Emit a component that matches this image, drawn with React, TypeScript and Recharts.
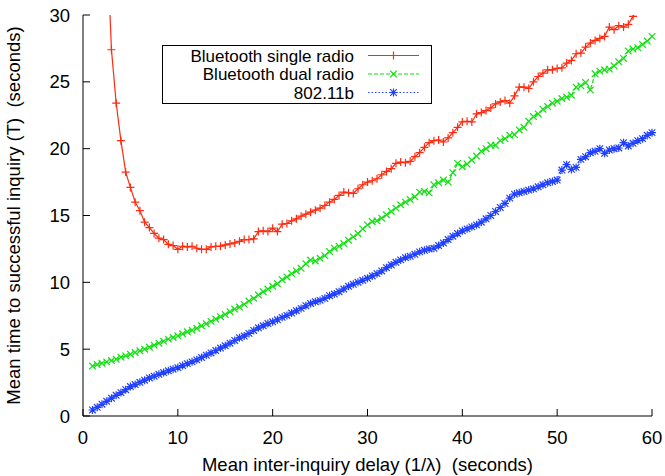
import { LineChart, Line, XAxis, YAxis } from "recharts";

// mean inter-inquiry delay (seconds)
const delays = [
  1, 1.5, 2, 2.5, 3, 3.5, 4, 4.5, 5, 5.5, 6, 6.5, 7, 7.5, 8, 8.5, 9, 9.5, 10, 10.5,
  11, 11.5, 12, 12.5, 13, 13.5, 14, 14.5, 15, 15.5, 16, 16.5, 17, 17.5, 18, 18.5, 19, 19.5, 20, 20.5,
  21, 21.5, 22, 22.5, 23, 23.5, 24, 24.5, 25, 25.5, 26, 26.5, 27, 27.5, 28, 28.5, 29, 29.5, 30, 30.5,
  31, 31.5, 32, 32.5, 33, 33.5, 34, 34.5, 35, 35.5, 36, 36.5, 37, 37.5, 38, 38.5, 39, 39.5, 40, 40.5,
  41, 41.5, 42, 42.5, 43, 43.5, 44, 44.5, 45, 45.5, 46, 46.5, 47, 47.5, 48, 48.5, 49, 49.5, 50, 50.5,
  51, 51.5, 52, 52.5, 53, 53.5, 54, 54.5, 55, 55.5, 56, 56.5, 57, 57.5, 58, 58.5, 59, 59.5, 60,
];

const singleRadio = [
  95, 65, 48, 36, 27.4, 23.4, 20.6, 18.25, 17.1, 16.0, 15.36, 14.5, 14.1, 13.66, 13.3, 13.2, 12.84, 12.75, 12.47, 12.7,
  12.65, 12.7, 12.55, 12.47, 12.47, 12.65, 12.7, 12.7, 12.8, 12.87, 12.95, 13.07, 13.2, 13.2, 13.25, 13.8, 13.85, 13.8, 14.05, 13.8,
  14.35, 14.4, 14.6, 14.75, 14.95, 15.1, 15.25, 15.4, 15.55, 15.75, 16.0, 16.2, 16.5, 16.75, 16.7, 16.65, 17.0, 17.3, 17.5, 17.6,
  17.75, 18.05, 18.3, 18.5, 18.9, 19.0, 18.95, 19.05, 19.4, 19.7, 20.1, 20.45, 20.6, 20.65, 20.5, 20.8, 21.2, 21.6, 22.0, 22.05,
  22.0, 22.6, 22.7, 22.85, 23.05, 23.35, 23.5, 23.6, 23.4, 23.95, 24.6, 24.6, 24.5, 25.0, 25.4, 25.65, 25.9, 25.9, 26.0, 26.05,
  26.4, 26.6, 27.1, 27.15, 27.6, 27.9, 28.1, 28.25, 28.4, 29.1, 28.9, 29.2, 29.1, 29.3, 29.9, 30.5, 30.9, 31.0, 31.4,
];

const dualRadio = [
  3.74, 3.85, 3.95, 4.05, 4.15, 4.25, 4.4, 4.5, 4.62, 4.75,
  4.88, 5.0, 5.15, 5.3, 5.45, 5.6, 5.75, 5.88, 6.0, 6.15,
  6.3, 6.42, 6.56, 6.75, 6.9, 7.08, 7.25, 7.43, 7.6, 7.8,
  8.0, 8.15, 8.35, 8.6, 8.8, 9.05, 9.3, 9.5, 9.7, 9.9,
  10.2, 10.4, 10.65, 10.85, 11.05, 11.4, 11.67, 11.6, 11.8, 12.0,
  12.3, 12.55, 12.7, 12.9, 13.15, 13.4, 13.65, 14.0, 14.3, 14.55,
  14.6, 14.8, 15.05, 15.3, 15.55, 15.8, 16.0, 16.2, 16.4, 16.75,
  16.8, 16.7, 17.3, 17.45, 17.65, 17.5, 18.2, 18.9, 18.65, 18.85,
  19.15, 19.45, 19.8, 20.0, 20.25, 20.25, 20.6, 20.75, 21.0, 21.05,
  21.4, 21.6, 22.05, 22.4, 22.6, 22.95, 23.15, 23.4, 23.55, 23.75,
  23.85, 24.0, 24.6, 24.7, 24.95, 24.4, 25.6, 25.8, 25.9, 25.95,
  26.2, 26.5, 26.75, 27.3, 27.45, 27.55, 27.8, 28.05, 28.4,
];

const wifi = [
  0.45, 0.65, 0.88, 1.1, 1.33, 1.55, 1.75, 1.97, 2.2, 2.35,
  2.52, 2.68, 2.85, 2.98, 3.12, 3.25, 3.38, 3.5, 3.62, 3.77,
  3.92, 4.05, 4.2, 4.38, 4.55, 4.72, 4.9, 5.08, 5.25, 5.45,
  5.65, 5.85, 5.98, 6.18, 6.4, 6.6, 6.75, 6.92, 7.05, 7.2,
  7.38, 7.52, 7.7, 7.88, 8.05, 8.25, 8.42, 8.55, 8.65, 8.8,
  9.0, 9.12, 9.3, 9.5, 9.7, 9.85, 10.0, 10.15, 10.3, 10.48,
  10.65, 10.85, 11.1, 11.3, 11.5, 11.68, 11.85, 11.95, 12.1, 12.28,
  12.4, 12.5, 12.55, 12.75, 12.95, 13.2, 13.45, 13.65, 13.85, 14.0,
  14.15, 14.3, 14.5, 14.75, 15.0, 15.3, 15.6, 15.9, 16.3, 16.6,
  16.7, 16.8, 16.9, 17.0, 17.15, 17.3, 17.45, 17.55, 17.65, 18.4,
  18.8, 18.45, 18.6, 19.2, 19.4, 19.7, 19.8, 20.0, 19.65, 19.9,
  20.0, 20.05, 20.45, 20.2, 20.4, 20.6, 20.75, 21.0, 21.2,
];

const xTicks = [0, 10, 20, 30, 40, 50, 60];
const yTicks = [0, 5, 10, 15, 20, 25, 30];

const data = delays.map((d, i) => ({
  delay: d,
  single: singleRadio[i],
  dual: dualRadio[i],
  wifi: wifi[i],
}));

const FONT = "'Liberation Sans', Arial, Helvetica, sans-serif";
const FS = 18.5;
const LEGEND_FS = 17;
const RED = "#ff2a10";
const GREEN = "#11e011";
const BLUE = "#2040ff";

const plus = (cx: number, cy: number) => `M${cx - 4},${cy}h8M${cx},${cy - 4}v8`;
const cross = (cx: number, cy: number) => `M${cx - 3.3},${cy - 3.3}l6.6,6.6M${cx - 3.3},${cy + 3.3}l6.6,-6.6`;
const star = (cx: number, cy: number) => plus(cx, cy) + cross(cx, cy);

const marker = (shape: (cx: number, cy: number) => string, color: string) => (p: any) => {
  if (p.cx == null || p.cy == null) return <g key={p.index} />;
  return <path key={p.index} d={shape(p.cx, p.cy)} stroke={color} strokeWidth={1.2} fill="none" />;
};

const BottomTick = ({ x, y, payload }: any) => (
  <g>
    <line x1={x} y1={y} x2={x} y2={y - 7} stroke="#000" />
    <text x={x} y={y + 28} textAnchor="middle" fontSize={FS} fontFamily={FONT} fill="#000">
      {payload.value}
    </text>
  </g>
);
const TopTick = ({ x, y }: any) => <line x1={x} y1={y} x2={x} y2={y + 7} stroke="#000" />;
const LeftTick = ({ x, y, payload }: any) => (
  <g>
    <line x1={x} y1={y} x2={x + 7} y2={y} stroke="#000" />
    <text x={x - 13} y={y + 6.5} textAnchor="end" fontSize={FS} fontFamily={FONT} fill="#000">
      {payload.value}
    </text>
  </g>
);
const RightTick = ({ x, y }: any) => <line x1={x} y1={y} x2={x - 7} y2={y} stroke="#000" />;

const legendRows = [
  { label: "Bluetooth single radio", color: RED, dash: undefined, shape: plus },
  { label: "Bluetooth dual radio", color: GREEN, dash: "4 2", shape: cross },
  { label: "802.11b", color: BLUE, dash: "1.5 2", shape: star },
];

const LegendBox = () => (
  <svg width={270} height={59} style={{ display: "block" }}>
    <rect x={0.5} y={0.5} width={269} height={58} fill="#fff" stroke="#000" />
    {legendRows.map((r, i) => {
      const cy = 10.5 + i * 18.5;
      return (
        <g key={r.label}>
          <text x={192} y={cy + 6} textAnchor="end" fontSize={LEGEND_FS} fontFamily={FONT} fill="#000">
            {r.label}
          </text>
          <line x1={206} y1={cy} x2={257} y2={cy} stroke={r.color} strokeWidth={1.2} strokeDasharray={r.dash} />
          <path d={r.shape(231.5, cy)} stroke={r.color} strokeWidth={1.2} fill="none" />
        </g>
      );
    })}
  </svg>
);

export default function App() {
  return (
    <div style={{ position: "fixed", left: 0, top: 0, width: 665, height: 476, background: "#fff" }}>
      <LineChart
        width={665}
        height={476}
        data={data}
        margin={{ top: 15, right: 13, bottom: 0, left: 0 }}
      >
        <XAxis
          dataKey="delay"
          type="number"
          domain={[0, 60]}
          ticks={xTicks}
          tickSize={0}
          tickMargin={0}
          tick={<BottomTick />}
          axisLine={{ stroke: "#000" }}
          height={60}
          label={{
            value: "Mean inter-inquiry delay (1/\u03bb)\u00a0 (seconds)",
            position: "insideBottom",
            offset: 5,
            fontSize: FS,
            fontFamily: FONT,
            fill: "#000",
          }}
        />
        <XAxis
          xAxisId="top"
          orientation="top"
          dataKey="delay"
          type="number"
          domain={[0, 60]}
          ticks={xTicks}
          tickSize={0}
          tickMargin={0}
          tick={<TopTick />}
          axisLine={{ stroke: "#000" }}
          height={0}
        />
        <YAxis
          type="number"
          domain={[0, 30]}
          allowDataOverflow
          ticks={yTicks}
          tickSize={0}
          tickMargin={0}
          tick={<LeftTick />}
          axisLine={{ stroke: "#000" }}
          width={83}
          label={{
            value: "Mean time to successful inquiry (T)\u00a0 (seconds)",
            angle: -90,
            position: "insideLeft",
            offset: 13,
            fontSize: FS,
            fontFamily: FONT,
            fill: "#000",
            style: { textAnchor: "middle" },
          }}
        />
        <YAxis
          yAxisId="right"
          orientation="right"
          type="number"
          domain={[0, 30]}
          ticks={yTicks}
          tickSize={0}
          tickMargin={0}
          tick={<RightTick />}
          axisLine={{ stroke: "#000" }}
          width={0}
        />
        <Line
          dataKey="single"
          stroke={RED}
          strokeWidth={1.2}
          dot={marker(plus, RED)}
          activeDot={false}
          isAnimationActive={false}
        />
        <Line
          dataKey="dual"
          stroke={GREEN}
          strokeWidth={1.2}
          strokeDasharray="4 2"
          dot={marker(cross, GREEN)}
          activeDot={false}
          isAnimationActive={false}
        />
        <Line
          dataKey="wifi"
          stroke={BLUE}
          strokeWidth={1.2}
          strokeDasharray="1.5 2"
          dot={marker(star, BLUE)}
          activeDot={false}
          isAnimationActive={false}
        />
      </LineChart>
      <div style={{ position: "absolute", left: 162, top: 45 }}>
        <LegendBox />
      </div>
    </div>
  );
}
